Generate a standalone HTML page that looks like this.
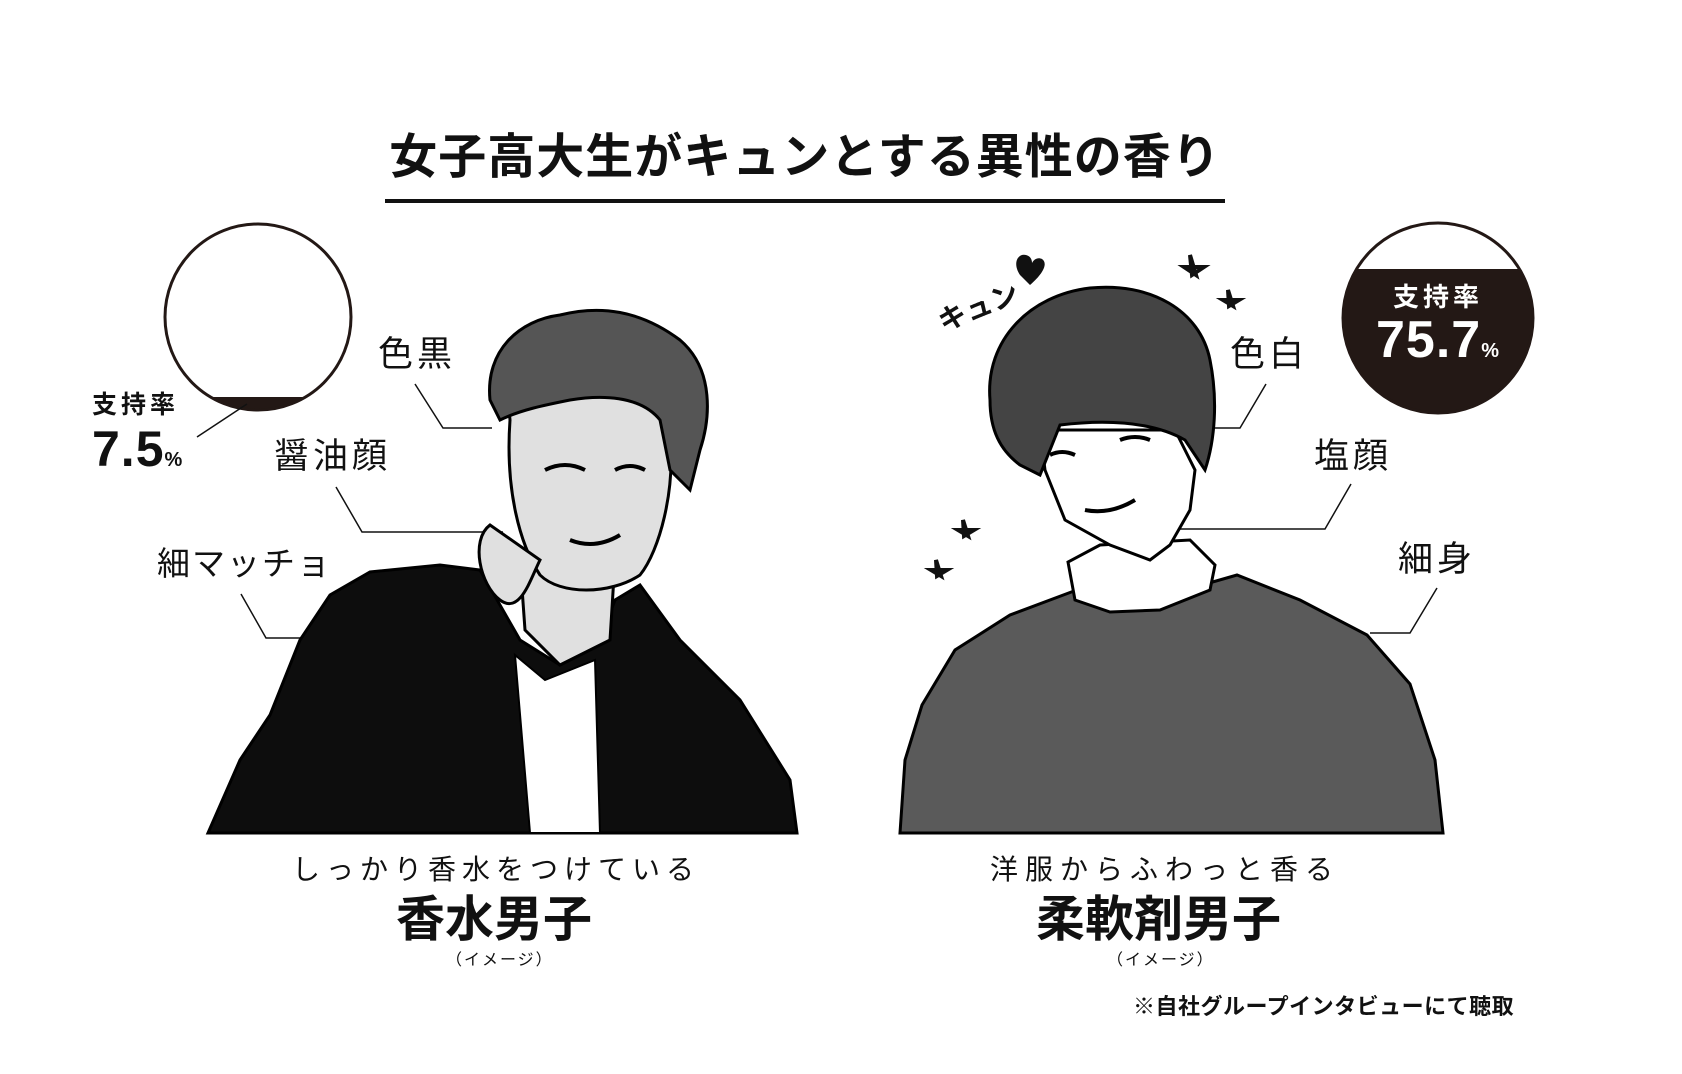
<!DOCTYPE html>
<html><head><meta charset="utf-8"><style>
html,body{margin:0;padding:0;background:#fff;}
body{width:1682px;height:1074px;position:relative;overflow:hidden;font-family:"Liberation Sans","Noto Sans CJK JP",sans-serif;color:#111;}
.t{position:absolute;white-space:nowrap;line-height:1;}
</style></head><body>
<svg width="1682" height="1074" style="position:absolute;left:0;top:0" xmlns="http://www.w3.org/2000/svg">
<rect x="385" y="199" width="840" height="4" fill="#111"/>
<defs><clipPath id="c1"><circle cx="258" cy="317" r="94"/></clipPath><clipPath id="c2"><circle cx="1438" cy="318" r="96"/></clipPath></defs>
<rect x="150" y="397" width="220" height="30" fill="#231815" clip-path="url(#c1)"/>
<circle cx="258" cy="317" r="93" fill="none" stroke="#231815" stroke-width="3"/>
<line x1="247" y1="404" x2="197" y2="437" stroke="#111" stroke-width="1.5"/>
<rect x="1330" y="269" width="220" height="160" fill="#231815" clip-path="url(#c2)"/>
<circle cx="1438" cy="318" r="95" fill="none" stroke="#231815" stroke-width="3"/>
<polyline points="415,384 443,428 492,428" fill="none" stroke="#111" stroke-width="1.5"/>
<polyline points="336,487 362,532 503,532" fill="none" stroke="#111" stroke-width="1.5"/>
<polyline points="241,594 266,638 318,638" fill="none" stroke="#111" stroke-width="1.5"/>
<polyline points="1266,384 1240,428 1208,428" fill="none" stroke="#111" stroke-width="1.5"/>
<polyline points="1351,484 1325,529 1180,529" fill="none" stroke="#111" stroke-width="1.5"/>
<polyline points="1437,588 1410,633 1370,633" fill="none" stroke="#111" stroke-width="1.5"/>

<path d="M208,833 L240,760 L270,715 L300,640 L330,595 L370,572 L440,565 L480,570 L520,640 L560,665 L600,640 L615,600 L640,585 L680,640 L740,700 L790,780 L797,833 Z" fill="#0d0d0d" stroke="#000" stroke-width="3"/>
<path d="M515,655 L545,680 L595,660 L600,833 L530,833 Z" fill="#fff" stroke="#000" stroke-width="2"/>
<path d="M520,560 L525,630 L560,665 L610,640 L615,560 Z" fill="#e0e0e0" stroke="#000" stroke-width="3"/>
<path d="M510,420 C505,380 540,360 590,365 C640,370 665,400 670,440 C675,490 660,550 640,575 C610,595 560,595 540,575 C520,545 505,490 510,420 Z" fill="#e0e0e0" stroke="#000" stroke-width="3"/>
<path d="M490,525 C470,540 480,585 500,600 C520,615 530,580 540,560 Z" fill="#e0e0e0" stroke="#000" stroke-width="3"/>
<path d="M490,400 C485,350 520,320 560,315 C600,305 640,310 680,340 C715,370 710,420 700,450 L690,490 L670,470 L660,420 C640,395 600,395 570,400 C545,405 520,410 500,420 Z" fill="#555" stroke="#000" stroke-width="3"/>
<path d="M545,470 q20,-10 40,0 M615,470 q15,-8 30,0 M570,540 q25,10 50,-5" fill="none" stroke="#000" stroke-width="4"/>

<path d="M900,833 L905,760 L922,705 L955,650 L1010,615 L1074,591 L1150,600 L1237,575 L1300,600 L1367,635 L1410,684 L1435,760 L1443,833 Z" fill="#5a5a5a" stroke="#000" stroke-width="3"/>
<path d="M1068,562 L1075,600 L1110,612 L1160,610 L1210,590 L1215,565 L1190,540 L1100,545 Z" fill="#fff" stroke="#000" stroke-width="3"/>
<path d="M1040,430 L1175,430 L1195,470 L1190,510 L1170,545 L1150,560 L1110,545 L1065,520 L1045,470 Z" fill="#fff" stroke="#000" stroke-width="3"/>
<path d="M990,400 C985,340 1030,295 1090,288 C1150,282 1200,310 1210,360 C1218,400 1215,440 1205,470 L1185,440 C1150,420 1100,420 1060,425 L1040,475 L1020,465 C1000,450 990,430 990,400 Z" fill="#444" stroke="#000" stroke-width="3"/>
<path d="M1050,455 q12,-6 25,0 M1120,440 q15,-6 30,0 M1085,510 q25,5 50,-10" fill="none" stroke="#000" stroke-width="4"/>
<path d="M1020,275 c-8,-12 -2,-22 6,-20 c4,1 6,4 6,8 c2,-4 6,-6 10,-4 c6,4 2,14 -12,26 z" fill="#111"/>
<g fill="none" stroke="#111" stroke-width="4">
<path d="M1190,255 l6,20 l-12,-8 l20,0 l-12,8 z"/>
<path d="M1228,290 l5,16 l-10,-6 l16,0 l-10,6 z"/>
<path d="M963,520 l5,16 l-10,-6 l16,0 l-10,6 z"/>
<path d="M936,560 l5,16 l-10,-6 l16,0 l-10,6 z"/>
</g>
</svg>
<div class="t" style="left:936px;top:292px;font-size:28px;font-weight:bold;transform:rotate(-22deg);font-family:'Noto Sans CJK JP',sans-serif;">キュン</div>

<div class="t" style="left:375px;top:134px;width:860px;text-align:center;font-size:48px;font-weight:bold;letter-spacing:1px;">女子高大生がキュンとする異性の香り</div>

<div class="t" style="left:92px;top:393px;font-size:25px;font-weight:bold;letter-spacing:4px;">支持率</div>
<div class="t" style="left:92px;top:424px;font-size:50px;font-weight:bold;letter-spacing:1px;">7.5<span style="font-size:20px">%</span></div>

<div class="t" style="left:1340px;top:284px;width:196px;text-align:center;font-size:26px;font-weight:bold;letter-spacing:4px;color:#fff;">支持率</div>
<div class="t" style="left:1330px;top:314px;width:216px;text-align:center;font-size:52px;font-weight:bold;letter-spacing:1px;color:#fff;">75.7<span style="font-size:20px">%</span></div>

<div class="t" style="left:378px;top:337px;font-size:35px;letter-spacing:4px;">色黒</div>
<div class="t" style="left:274px;top:439px;font-size:35px;letter-spacing:4px;">醤油顔</div>
<div class="t" style="left:157px;top:547px;font-size:33px;letter-spacing:2px;">細マッチョ</div>
<div class="t" style="left:1230px;top:337px;font-size:35px;letter-spacing:4px;">色白</div>
<div class="t" style="left:1314px;top:439px;font-size:35px;letter-spacing:4px;">塩顔</div>
<div class="t" style="left:1398px;top:542px;font-size:35px;letter-spacing:4px;">細身</div>

<div class="t" style="left:292px;top:856px;font-size:28px;letter-spacing:6px;">しっかり香水をつけている</div>
<div class="t" style="left:396px;top:896px;font-size:49px;font-weight:bold;">香水男子</div>
<div class="t" style="left:446px;top:953px;width:100px;text-align:center;font-size:16px;letter-spacing:2px;">（イメージ）</div>
<div class="t" style="left:990px;top:856px;font-size:28px;letter-spacing:7px;">洋服からふわっと香る</div>
<div class="t" style="left:1036px;top:896px;font-size:49px;font-weight:bold;">柔軟剤男子</div>
<div class="t" style="left:1107px;top:953px;width:100px;text-align:center;font-size:16px;letter-spacing:2px;">（イメージ）</div>
<div class="t" style="left:1133px;top:996px;font-size:22px;font-weight:bold;letter-spacing:0.5px;">※自社グループインタビューにて聴取</div>
</body></html>
